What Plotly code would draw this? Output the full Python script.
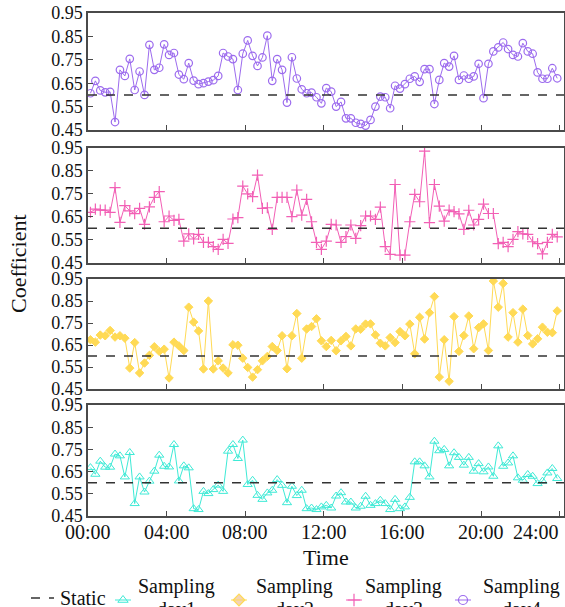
import plotly.graph_objects as go
from plotly.subplots import make_subplots

# ---- data ----
tick_hours = [0, 4, 8, 12, 16, 20, 24]
tick_labels = ["00:00", "04:00", "08:00", "12:00", "16:00", "20:00", "24:00"]
y_ticks = [0.45, 0.55, 0.65, 0.75, 0.85, 0.95]
static_value = 0.6
# sampling every 15 minutes (mid-interval), 96 samples per day
time_hours = [0.125 + 0.25 * i for i in range(96)]

day4 = [0.607, 0.66, 0.619, 0.611, 0.613, 0.484, 0.707, 0.681, 0.754, 0.621,
        0.70, 0.60, 0.814, 0.707, 0.716, 0.816, 0.771, 0.779, 0.687, 0.667,
        0.736, 0.661, 0.646, 0.65, 0.657, 0.663, 0.681, 0.779, 0.764, 0.753,
        0.621, 0.776, 0.833, 0.767, 0.724, 0.76, 0.853, 0.66, 0.753, 0.707,
        0.567, 0.761, 0.67, 0.624, 0.607, 0.61, 0.59, 0.564, 0.629, 0.614,
        0.55, 0.57, 0.50, 0.50, 0.481, 0.476, 0.469, 0.493, 0.55, 0.593,
        0.59, 0.543, 0.639, 0.627, 0.646, 0.669, 0.679, 0.656, 0.71, 0.71,
        0.561, 0.664, 0.736, 0.721, 0.767, 0.664, 0.683, 0.669, 0.679, 0.733,
        0.586, 0.733, 0.786, 0.803, 0.824, 0.796, 0.771, 0.764, 0.821, 0.786,
        0.776, 0.696, 0.669, 0.669, 0.714, 0.671]

day3 = [0.669, 0.683, 0.679, 0.679, 0.669, 0.776, 0.625, 0.698, 0.675, 0.663,
        0.686, 0.617, 0.693, 0.734, 0.759, 0.628, 0.653, 0.634, 0.638, 0.544,
        0.575, 0.553, 0.573, 0.538, 0.538, 0.52, 0.508, 0.551, 0.534, 0.64,
        0.646, 0.783, 0.749, 0.737, 0.831, 0.686, 0.689, 0.595, 0.734, 0.734,
        0.734, 0.65, 0.766, 0.657, 0.725, 0.628, 0.538, 0.508, 0.544, 0.617,
        0.614, 0.538, 0.563, 0.614, 0.556, 0.611, 0.653, 0.653, 0.638, 0.692,
        0.52, 0.486, 0.79, 0.483, 0.483, 0.628, 0.747, 0.715, 0.935, 0.624,
        0.79, 0.696, 0.631, 0.679, 0.672, 0.662, 0.595, 0.678, 0.614, 0.638,
        0.705, 0.664, 0.664, 0.533, 0.538, 0.52, 0.551, 0.585, 0.575, 0.573,
        0.541, 0.533, 0.488, 0.538, 0.573, 0.562]

day2 = [0.674, 0.663, 0.695, 0.692, 0.716, 0.686, 0.692, 0.681, 0.545, 0.661,
        0.523, 0.568, 0.603, 0.642, 0.621, 0.631, 0.50, 0.663, 0.646, 0.625,
        0.822, 0.754, 0.714, 0.541, 0.85, 0.541, 0.578, 0.545, 0.523, 0.651,
        0.649, 0.59, 0.548, 0.504, 0.538, 0.578, 0.598, 0.643, 0.625, 0.692,
        0.542, 0.692, 0.793, 0.59, 0.723, 0.734, 0.769, 0.669, 0.643, 0.671,
        0.624, 0.669, 0.689, 0.646, 0.723, 0.722, 0.745, 0.746, 0.696, 0.658,
        0.646, 0.684, 0.661, 0.711, 0.692, 0.745, 0.61, 0.776, 0.677, 0.797,
        0.87, 0.504, 0.674, 0.485, 0.779, 0.621, 0.693, 0.782, 0.633, 0.729,
        0.746, 0.625, 0.941, 0.822, 0.93, 0.686, 0.797, 0.663, 0.813, 0.693,
        0.655, 0.678, 0.731, 0.708, 0.706, 0.805]

day1 = [0.668, 0.638, 0.697, 0.67, 0.67, 0.729, 0.721, 0.626, 0.736, 0.506,
        0.626, 0.558, 0.607, 0.652, 0.724, 0.674, 0.671, 0.772, 0.608, 0.676,
        0.667, 0.483, 0.479, 0.561, 0.551, 0.569, 0.589, 0.561, 0.742, 0.772,
        0.709, 0.792, 0.592, 0.611, 0.543, 0.525, 0.554, 0.566, 0.614, 0.588,
        0.51, 0.584, 0.542, 0.566, 0.483, 0.486, 0.479, 0.491, 0.498, 0.486,
        0.54, 0.555, 0.513, 0.513, 0.486, 0.494, 0.539, 0.498, 0.506, 0.521,
        0.506, 0.479, 0.525, 0.483, 0.491, 0.534, 0.694, 0.694, 0.676, 0.626,
        0.787, 0.744, 0.75, 0.676, 0.735, 0.714, 0.679, 0.714, 0.652, 0.686,
        0.649, 0.671, 0.629, 0.766, 0.674, 0.689, 0.721, 0.622, 0.611, 0.637,
        0.629, 0.596, 0.607, 0.644, 0.664, 0.619]

legend_names = ["Static", "Sampling day1", "Sampling day2", "Sampling day3", "Sampling day4"]

# ---- styles / layout ----
FONT = "Liberation Serif"
TXT = "#111111"
C_STATIC = "#333333"
C_DAY1 = "#3EEAD6"
C_DAY2 = "#FFDA55"
C_DAY3 = "#F25FB5"
C_DAY4 = "#9C6BEE"
FRAME = "#4a4a4a"
W, H = 565, 607
ML, MR, MT, MB = 88, 1, 13, 0
PW, PH = W - ML - MR, H - MT - MB


def px_x(p):
    return (p - ML) / PW


def px_y(p):
    return (H - MB - p) / PH


fig = make_subplots(rows=4, cols=1)

styles = {
    "Sampling day1": dict(color=C_DAY1, row=4,
                          marker=dict(symbol="triangle-up-open", size=8, color=C_DAY1,
                                      line=dict(width=1, color=C_DAY1))),
    "Sampling day2": dict(color=C_DAY2, row=3,
                          marker=dict(symbol="diamond", size=6.5, color=C_DAY2,
                                      line=dict(width=1, color=C_DAY2))),
    "Sampling day3": dict(color=C_DAY3, row=2,
                          marker=dict(symbol="cross-thin-open", size=8, color=C_DAY3,
                                      line=dict(width=1.2, color=C_DAY3))),
    "Sampling day4": dict(color=C_DAY4, row=1,
                          marker=dict(symbol="circle-open", size=7.5, color=C_DAY4,
                                      line=dict(width=1.2, color=C_DAY4))),
}
values = {"Sampling day1": day1, "Sampling day2": day2,
          "Sampling day3": day3, "Sampling day4": day4}

for name in legend_names[1:]:
    st = styles[name]
    fig.add_trace(go.Scatter(x=time_hours, y=values[name], mode="lines+markers", name=name,
                             line=dict(color=st["color"], width=1), marker=st["marker"],
                             showlegend=False),
                  row=st["row"], col=1)

for row in range(1, 5):
    fig.add_hline(y=static_value, line=dict(color=C_STATIC, width=1.5, dash="dash"),
                  row=row, col=1)

domains = {1: [px_y(130), 1.0], 2: [px_y(262.7), px_y(147.7)],
           3: [px_y(389), px_y(279)], 4: [px_y(516), px_y(405)]}
for row in range(1, 5):
    fig.update_yaxes(row=row, col=1, domain=domains[row], range=[0.45, 0.95],
                     tickvals=y_ticks, ticktext=[f"{v:.2f}" for v in y_ticks],
                     ticks="inside", ticklen=5, tickcolor=FRAME,
                     showline=True, linecolor=FRAME, linewidth=1.5, mirror=True,
                     showgrid=False, zeroline=False,
                     tickfont=dict(family=FONT, size=18, color=TXT))
    fig.update_xaxes(row=row, col=1, range=[0, 24.22],
                     tickvals=tick_hours, showticklabels=False,
                     ticks="inside", ticklen=5, tickcolor=FRAME,
                     showline=True, linecolor=FRAME, linewidth=1.5, mirror=True,
                     showgrid=False, zeroline=False)

# x tick labels under the bottom panel (last one pulled inside the page like the original)
for h, lab in zip(tick_hours, tick_labels):
    fig.add_annotation(text=lab, xref="x4", yref="paper", x=h, y=px_y(532),
                       xshift=(-24 if h == 24 else 0), showarrow=False,
                       xanchor="center", yanchor="middle",
                       font=dict(family=FONT, size=20, color=TXT))

fig.add_annotation(text="Coefficient", xref="paper", yref="paper", x=px_x(18), y=px_y(264),
                   textangle=-90, showarrow=False, xanchor="center", yanchor="middle",
                   font=dict(family=FONT, size=22, color=TXT))
fig.add_annotation(text="Time", xref="paper", yref="paper", x=0.5, y=px_y(557),
                   showarrow=False, xanchor="center", yanchor="middle",
                   font=dict(family=FONT, size=22, color=TXT))

# ---- legend (drawn below the axes, clipped by the page like the original) ----
# hidden overlay axis in page-pixel units, used only to place legend symbols
fig.update_layout(
    xaxis5=dict(domain=[0, 1], range=[ML, W - MR], visible=False, anchor="y5", fixedrange=True),
    yaxis5=dict(domain=[0, 1], range=[H - MB, MT], visible=False, anchor="x5", fixedrange=True),
)
leg_pos = {  # symbol centre x, label centre x
    "Sampling day1": (123, 176),
    "Sampling day2": (239, 294),
    "Sampling day3": (354, 403),
    "Sampling day4": (463, 521),
}
sym_y = 600
# Static entry
fig.add_shape(type="line", xref="paper", yref="paper", x0=px_x(31), x1=px_x(54),
              y0=px_y(598), y1=px_y(598), line=dict(color=C_STATIC, width=1.5, dash="dash"))
fig.add_annotation(text="Static", xref="paper", yref="paper", x=px_x(58), y=px_y(598),
                   showarrow=False, xanchor="left", yanchor="middle",
                   font=dict(family=FONT, size=20, color=TXT))
for name in legend_names[1:]:
    sx, tx = leg_pos[name]
    st = styles[name]
    fig.add_shape(type="line", xref="paper", yref="paper", x0=px_x(sx - 8), x1=px_x(sx + 8),
                  y0=px_y(sym_y), y1=px_y(sym_y), line=dict(color=st["color"], width=1))
    mk = dict(st["marker"])
    if name == "Sampling day2":
        mk = dict(symbol="diamond", size=9, color="#F3D3B8", line=dict(width=1.2, color=C_DAY2))
    else:
        mk["size"] = 9
    fig.add_trace(go.Scatter(x=[sx], y=[sym_y], xaxis="x5", yaxis="y5", mode="markers",
                             marker=mk, cliponaxis=False, showlegend=False, hoverinfo="skip"))
    first, second = name.split(" ")
    fig.add_annotation(text=first, xref="paper", yref="paper", x=px_x(tx), y=px_y(586),
                       showarrow=False, xanchor="center", yanchor="middle",
                       font=dict(family=FONT, size=20, color=TXT))
    fig.add_annotation(text=second, xref="paper", yref="paper", x=px_x(tx), y=px_y(609),
                       showarrow=False, xanchor="center", yanchor="middle",
                       font=dict(family=FONT, size=20, color=TXT))

fig.update_layout(
    width=W, height=H,
    margin=dict(l=ML, r=MR, t=MT, b=MB, autoexpand=False),
    paper_bgcolor="white", plot_bgcolor="rgba(0,0,0,0)",
    showlegend=False,
)

fig.write_html("out.html", config={"displayModeBar": False},
               post_script="document.body.style.margin='0';document.body.style.overflow='hidden';")
